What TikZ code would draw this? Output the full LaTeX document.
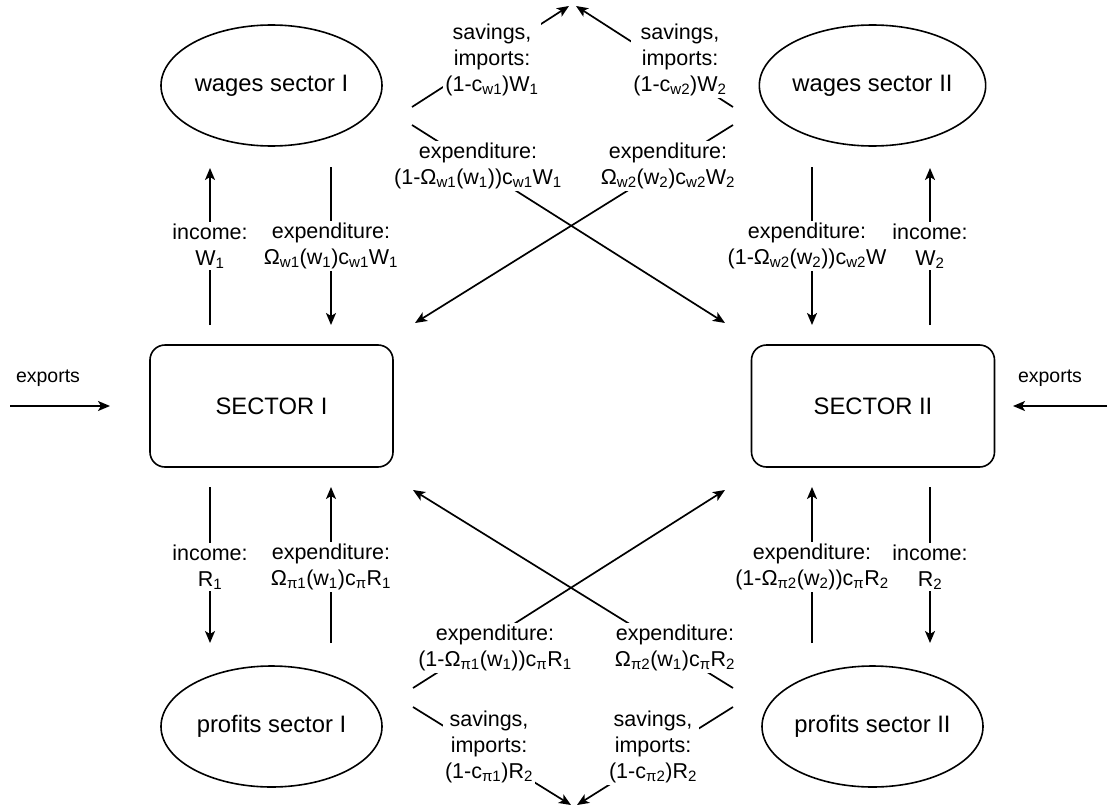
\documentclass[tikz,border=0pt]{standalone}
\usepackage{fontspec}
\setmainfont{Liberation Sans}
\usetikzlibrary{shapes.geometric,arrows.meta,backgrounds}
\newcommand\nodefnt{\fontsize{23.8}{28}\selectfont}
\newcommand\lblfnt{\fontsize{21.5}{26}\selectfont}
\newcommand\expfnt{\fontsize{19.5}{23}\selectfont}
\begin{document}
\begin{tikzpicture}[x=1pt,y=-1pt,line width=1.6pt,
  sectorbox/.style={draw, line width=1.6pt, rounded corners=15pt, minimum width=243pt, minimum height=122pt, inner sep=0pt, font=\nodefnt},
  pool/.style={draw, line width=1.6pt, ellipse, minimum width=221pt, minimum height=121pt, inner sep=0pt, font=\nodefnt},
  lbl/.style={fill=white, inner sep=2pt, align=center, font=\lblfnt},
  explbl/.style={inner sep=0pt, font=\expfnt},
  flow/.style={line width=1.7pt, -{Stealth[length=12pt,width=10pt,inset=3pt]}}
]
\useasboundingbox (0,0) rectangle (1108,808);

% main nodes
\node[sectorbox] (s1) at (271.5,406) {SECTOR I};
\node[sectorbox] (s2) at (873,406) {SECTOR II};
\node[pool] (w1) at (271.5,85.5) {wages sector I};
\node[pool] (w2) at (872.5,85.5) {wages sector II};
\node[pool] (p1) at (271.5,726.5) {profits sector I};
\node[pool] (p2) at (872.5,726.5) {profits sector II};

% export labels
\node[explbl] (ex1) at (48,378) {exports};
\node[explbl] (ex2) at (1050,378) {exports};

% vertical labels
\node[lbl] (liw1) at (210,246) {income:\\W\textsubscript{1}};
\node[lbl] (lew1) at (331,246) {expenditure:\\Ω\textsubscript{w1}(w\textsubscript{1})c\textsubscript{w1}W\textsubscript{1}};
\node[lbl] (lew2) at (807,246) {expenditure:\\(1-Ω\textsubscript{w2}(w\textsubscript{2}))c\textsubscript{w2}W};
\node[lbl] (liw2) at (930,246) {income:\\W\textsubscript{2}};
\node[lbl] (lir1) at (210,567) {income:\\R\textsubscript{1}};
\node[lbl] (ler1) at (331,567) {expenditure:\\Ω\textsubscript{π1}(w\textsubscript{1})c\textsubscript{π}R\textsubscript{1}};
\node[lbl] (ler2) at (812,567) {expenditure:\\(1-Ω\textsubscript{π2}(w\textsubscript{2}))c\textsubscript{π}R\textsubscript{2}};
\node[lbl] (lir2) at (930,567) {income:\\R\textsubscript{2}};

% diagonal labels
\node[lbl] (ld1) at (478,166) {expenditure:\\(1-Ω\textsubscript{w1}(w\textsubscript{1}))c\textsubscript{w1}W\textsubscript{1}};
\node[lbl] (ld2) at (668,166) {expenditure:\\Ω\textsubscript{w2}(w\textsubscript{2})c\textsubscript{w2}W\textsubscript{2}};
\node[lbl] (ls1) at (492,60) {savings,\\imports:\\(1-c\textsubscript{w1})W\textsubscript{1}};
\node[lbl] (ls2) at (680,60) {savings,\\imports:\\(1-c\textsubscript{w2})W\textsubscript{2}};
\node[lbl] (ld3) at (495,648) {expenditure:\\(1-Ω\textsubscript{π1}(w\textsubscript{1}))c\textsubscript{π}R\textsubscript{1}};
\node[lbl] (ld4) at (675,648) {expenditure:\\Ω\textsubscript{π2}(w\textsubscript{1})c\textsubscript{π}R\textsubscript{2}};
\node[lbl] (ls3) at (489,747) {savings,\\imports:\\(1-c\textsubscript{π1})R\textsubscript{2}};
\node[lbl] (ls4) at (653,747) {savings,\\imports:\\(1-c\textsubscript{π2})R\textsubscript{2}};

\begin{pgfonlayer}{background}
\fill[white] (0,0) rectangle (1108,808);
% coordinates
\coordinate (iw1a) at (210,325); \coordinate (iw1b) at (210,168);
\coordinate (ew1a) at (331,167); \coordinate (ew1b) at (331,325);
\coordinate (ew2a) at (812,167); \coordinate (ew2b) at (812,325);
\coordinate (iw2a) at (930,325); \coordinate (iw2b) at (930,168);
\coordinate (ir1a) at (210,487); \coordinate (ir1b) at (210,643);
\coordinate (er1a) at (331,643); \coordinate (er1b) at (331,487);
\coordinate (er2a) at (812,643); \coordinate (er2b) at (812,487);
\coordinate (ir2a) at (930,487); \coordinate (ir2b) at (930,643);
\coordinate (d1a) at (412,125); \coordinate (d1b) at (725,323);
\coordinate (d2a) at (733,125); \coordinate (d2b) at (415,323);
\coordinate (s1a) at (412,107); \coordinate (s1b) at (569,6);
\coordinate (s2a) at (733,107); \coordinate (s2b) at (576,6);
\coordinate (d3a) at (413,688); \coordinate (d3b) at (725,490);
\coordinate (d4a) at (733,688); \coordinate (d4b) at (413,490);
\coordinate (s3a) at (413,707); \coordinate (s3b) at (571,805);
\coordinate (s4a) at (733,707); \coordinate (s4b) at (577,805);
\coordinate (x1a) at (10,406); \coordinate (x1b) at (110,406);
\coordinate (x2a) at (1107,406); \coordinate (x2b) at (1013,406);
% connectors
\draw[flow] (iw1a) -- (iw1b);
\draw[flow] (ew1a) -- (ew1b);
\draw[flow] (ew2a) -- (ew2b);
\draw[flow] (iw2a) -- (iw2b);
\draw[flow] (ir1a) -- (ir1b);
\draw[flow] (er1a) -- (er1b);
\draw[flow] (er2a) -- (er2b);
\draw[flow] (ir2a) -- (ir2b);
\draw[flow] (d1a) -- (d1b);
\draw[flow] (d2a) -- (d2b);
\draw[flow] (s1a) -- (s1b);
\draw[flow] (s2a) -- (s2b);
\draw[flow] (d3a) -- (d3b);
\draw[flow] (d4a) -- (d4b);
\draw[flow] (s3a) -- (s3b);
\draw[flow] (s4a) -- (s4b);
\draw[flow] (x1a) -- (x1b);
\draw[flow] (x2a) -- (x2b);
\end{pgfonlayer}
\end{tikzpicture}
\end{document}
